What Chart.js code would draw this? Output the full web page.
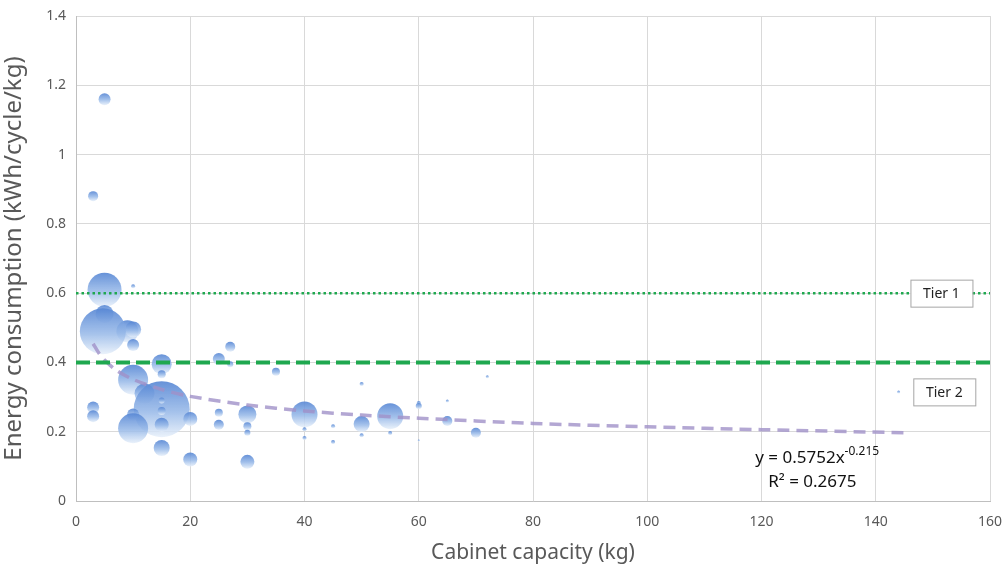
<!DOCTYPE html>
<html>
<head>
<meta charset="utf-8">
<script src="https://cdn.jsdelivr.net/npm/chart.js@4/dist/chart.umd.min.js"></script>
<style>
  html, body { margin: 0; padding: 0; background: #fff; }
  #wrap { width: 1006px; height: 566px; }
</style>
</head>
<body>
<div id="wrap"><canvas id="chart" width="1006" height="566"></canvas></div>
<script>
// 資料: 容量 (kg), 能耗 (kWh/cycle/kg), 氣泡大小
const capacity = [5, 3, 5, 5, 10, 9, 10, 4.7, 10, 27, 25, 15, 27, 15, 35, 10, 12, 15, 3, 3, 10, 10, 15, 15, 15, 20, 25, 25, 30, 30, 30, 15, 20, 30, 40, 40, 40, 45, 45, 50, 50, 50, 55, 55, 60, 60, 60, 65, 65, 70, 72, 144];
const energy = [1.16, 0.88, 0.61, 0.54, 0.62, 0.49, 0.495, 0.49, 0.45, 0.445, 0.41, 0.395, 0.395, 0.366, 0.373, 0.35, 0.31, 0.265, 0.27, 0.245, 0.25, 0.21, 0.29, 0.26, 0.22, 0.237, 0.255, 0.22, 0.25, 0.216, 0.197, 0.153, 0.12, 0.113, 0.25, 0.207, 0.182, 0.216, 0.17, 0.338, 0.222, 0.19, 0.245, 0.196, 0.283, 0.274, 0.175, 0.289, 0.231, 0.197, 0.359, 0.315];
const bubbleSize = [6, 5, 17, 9, 2, 11, 8, 23, 6, 5, 6, 10, 3, 4, 4, 15, 10, 28, 6, 6, 6, 15, 3, 4, 7, 7, 4, 5, 9, 4, 3, 8, 7, 7, 13, 2, 2, 2, 2, 2, 8, 2, 13, 2, 2, 3, 1, 1.5, 5, 5, 1.5, 1.5];

// 趨勢線
const trendX = [3, 4, 5, 7, 10, 15, 20, 30, 40, 50, 60, 80, 100, 120, 145];
const trendY = [0.454, 0.427, 0.407, 0.378, 0.351, 0.322, 0.302, 0.277, 0.260, 0.248, 0.239, 0.224, 0.214, 0.206, 0.197];

// 門檻線
const tierNames = ["Tier 1", "Tier 2"];
const tierLevels = [0.6, 0.4];
const xTicks = [0, 20, 40, 60, 80, 100, 120, 140, 160];

const bubbles = capacity.map((x, i) => ({ x: x, y: energy[i], r: bubbleSize[i] }));

// 氣泡漸層
const bubbleFill = (ctx) => {
  const chart = ctx.chart;
  const raw = ctx.raw;
  const fallback = "rgba(110,150,215,0.88)";
  if (!raw || !chart.scales || !chart.scales.y) return fallback;
  const py = chart.scales.y.getPixelForValue(raw.y);
  const r = raw.r;
  if (!isFinite(py) || !isFinite(r) || r <= 0) return fallback;
  const g = chart.ctx.createLinearGradient(0, py - r, 0, py + r);
  g.addColorStop(0, "rgba(86,134,212,0.9)");
  g.addColorStop(0.55, "rgba(150,184,232,0.86)");
  g.addColorStop(1, "rgba(230,239,250,0.84)");
  return g;
};

// 標註: Tier 框與公式
const notes = {
  id: "notes",
  afterDatasetsDraw(chart) {
    const { ctx, scales } = chart;
    const xs = scales.x, ys = scales.y;
    ctx.save();
    const boxes = [
      { text: tierNames[0], x: 151.5, y: tierLevels[0] },
      { text: tierNames[1], x: 152, y: 0.315 }
    ];
    ctx.font = "14px 'Noto Sans'";
    boxes.forEach((b) => {
      const cx = xs.getPixelForValue(b.x);
      const cy = ys.getPixelForValue(b.y);
      const w = 62, h = 27;
      ctx.fillStyle = "#fff";
      ctx.fillRect(cx - w / 2, cy - h / 2, w, h);
      ctx.strokeStyle = "#a6a6a6";
      ctx.lineWidth = 1;
      ctx.strokeRect(cx - w / 2 + 0.5, cy - h / 2 + 0.5, w, h);
      ctx.fillStyle = "#222";
      ctx.textAlign = "center";
      ctx.textBaseline = "middle";
      ctx.fillText(b.text, cx, cy + 1);
    });
    // 公式
    const ex = xs.getPixelForValue(118.9);
    const ey = ys.getPixelForValue(0.11);
    ctx.fillStyle = "#111";
    ctx.textAlign = "left";
    ctx.textBaseline = "alphabetic";
    ctx.font = "17px 'Noto Sans'";
    const main = "y = 0.5752x";
    ctx.fillText(main, ex, ey);
    const mw = ctx.measureText(main).width;
    ctx.font = "12px 'Noto Sans'";
    ctx.fillText("-0.215", ex + mw, ey - 8);
    ctx.font = "17px 'Noto Sans'";
    ctx.fillText("R² = 0.2675", ex + 13, ys.getPixelForValue(0.04));
    ctx.restore();
  }
};

new Chart(document.getElementById("chart"), {
  type: "bubble",
  data: {
    datasets: [
      {
        type: "bubble",
        label: "data",
        data: bubbles,
        backgroundColor: bubbleFill,
        borderWidth: 0,
        order: 3,
        clip: false
      },
      {
        type: "line",
        label: tierNames[0],
        data: [{ x: 0, y: tierLevels[0] }, { x: 160, y: tierLevels[0] }],
        borderColor: "#1fa84f",
        borderWidth: 2.5,
        borderDash: [2.5, 3],
        pointRadius: 0,
        order: 1
      },
      {
        type: "line",
        label: tierNames[1],
        data: [{ x: 0, y: tierLevels[1] }, { x: 160, y: tierLevels[1] }],
        borderColor: "#1fa84f",
        borderWidth: 4,
        borderDash: [14, 6],
        pointRadius: 0,
        order: 1
      },
      {
        type: "line",
        label: "trend",
        data: trendX.map((x, i) => ({ x: x, y: trendY[i] })),
        borderColor: "rgba(160,145,200,0.8)",
        borderWidth: 3.5,
        borderDash: [12, 7],
        pointRadius: 0,
        tension: 0.3,
        order: 2
      }
    ]
  },
  options: {
    responsive: false,
    animation: false,
    events: [],
    layout: { autoPadding: false, padding: { left: 0, right: 16, top: 16, bottom: 0 } },
    plugins: { legend: { display: false }, tooltip: { enabled: false } },
    scales: {
      x: {
        type: "linear",
        min: 0,
        max: 160,
        afterBuildTicks: (axis) => { axis.ticks = xTicks.map((v) => ({ value: v })); },
        grid: { color: "#d9d9d9", lineWidth: 1, drawTicks: false },
        border: { color: "#bfbfbf" },
        ticks: { color: "#595959", font: { family: "'Noto Sans'", size: 14 }, padding: 13 },
        title: {
          display: true,
          text: "Cabinet capacity (kg)",
          color: "#595959",
          font: { family: "'Noto Sans'", size: 21 },
          padding: { top: 4, bottom: 0 }
        },
        afterFit: (axis) => {
          axis.height = 65;
          axis.paddingLeft = 0;
          axis.paddingRight = 0;
        }
      },
      y: {
        type: "linear",
        min: 0,
        max: 1.4,
        ticks: {
          stepSize: 0.2,
          color: "#595959",
          font: { family: "'Noto Sans'", size: 14 },
          padding: 10,
          callback: (v) => String(Number(v.toFixed(1)))
        },
        grid: { color: "#d9d9d9", lineWidth: 1, drawTicks: false },
        border: { color: "#bfbfbf" },
        title: {
          display: true,
          text: "Energy consumption (kWh/cycle/kg)",
          color: "#595959",
          font: { family: "'Noto Sans'", size: 24 },
          padding: { top: 0, bottom: 4 }
        },
        afterFit: (axis) => {
          axis.width = 76;
          axis.paddingTop = 0;
          axis.paddingBottom = 0;
        }
      }
    }
  },
  plugins: [notes]
});
</script>
</body>
</html>
